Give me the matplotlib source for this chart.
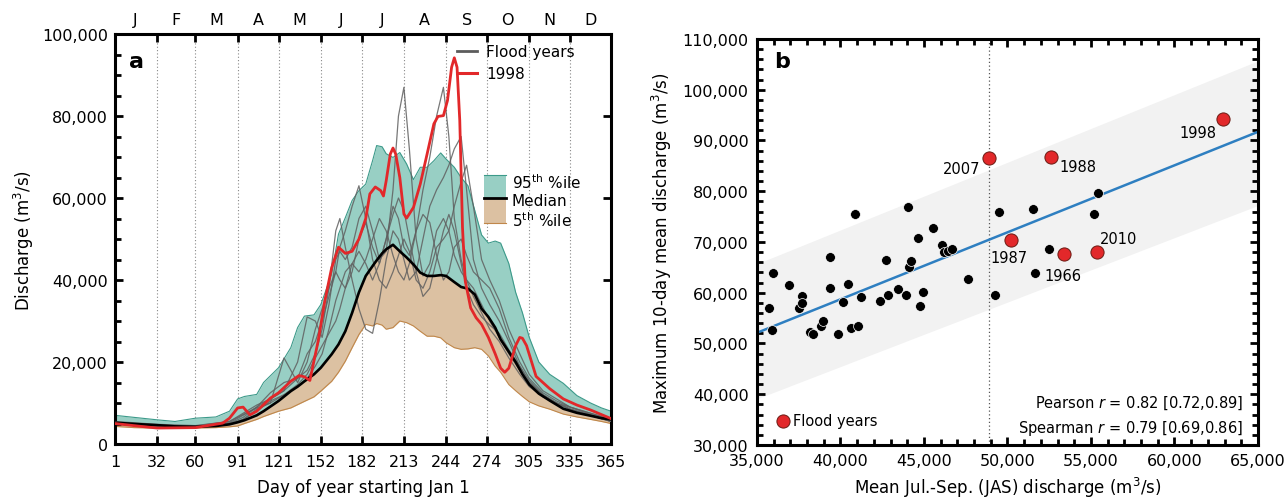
import numpy as np
import matplotlib
matplotlib.use('Agg')
import matplotlib.pyplot as plt
from matplotlib.ticker import FuncFormatter, MultipleLocator
from matplotlib.patches import Rectangle
from matplotlib.lines import Line2D

plt.rcParams['font.family'] = ['DejaVu Sans']
plt.rcParams['font.size'] = 11
plt.rcParams['mathtext.fontset'] = 'dejavusans'

# ---- panel a data (discharge, thousands of m3/s) ----
pct_days = [1, 15, 32, 45, 60, 75, 85, 91, 96, 105, 110, 121, 130, 135, 140, 147, 152,
            160, 165, 170, 175, 180, 185, 190, 193, 197, 200, 205, 210, 215, 220, 225,
            230, 235, 240, 244, 250, 255, 260, 265, 270, 275, 280, 284, 290, 295, 300,
            305, 312, 320, 330, 340, 350, 358, 365]
p95 = [7.0, 6.5, 5.9, 5.5, 6.3, 6.6, 8.0, 11.0, 11.6, 12.1, 15.0, 18.6, 23.5, 28.4, 31.2,
       31.5, 34.0, 41.4, 51.2, 55.2, 59.4, 61.8, 63.4, 69.1, 72.8, 72.5, 70.8, 69.9, 71.1,
       68.3, 64.5, 67.5, 67.5, 69.1, 71.0, 69.5, 67.5, 65.0, 63.0, 57.0, 51.0, 49.0, 49.5,
       49.0, 44.0, 37.0, 32.0, 26.0, 20.0, 17.0, 14.8, 11.8, 10.0, 8.8, 8.0]
p50 = [5.2, 4.9, 4.6, 4.3, 4.2, 4.4, 4.8, 5.3, 5.8, 7.0, 8.0, 10.5, 12.9, 14.0, 15.3,
       17.0, 18.6, 21.9, 24.3, 27.5, 32.0, 37.0, 41.0, 43.4, 44.8, 46.5, 47.5, 48.6, 47.0,
       45.5, 43.8, 41.8, 41.0, 41.0, 41.2, 41.0, 39.5, 38.3, 37.9, 36.5, 33.0, 31.0, 28.4,
       25.5, 22.5, 20.0, 17.0, 14.5, 12.3, 10.6, 8.6, 7.6, 6.9, 6.3, 6.0]
p05 = [4.3, 4.0, 3.9, 3.8, 3.9, 4.0, 4.2, 4.4, 5.0, 6.0, 6.7, 8.0, 8.8, 9.6, 10.4,
       11.5, 12.9, 15.3, 17.5, 20.2, 23.5, 26.7, 29.2, 28.8, 29.4, 29.0, 28.0, 28.4, 30.0,
       29.6, 28.8, 27.5, 26.3, 26.3, 25.9, 24.7, 23.5, 23.1, 23.2, 23.5, 23.1, 21.5, 19.0,
       17.5, 14.5, 13.0, 11.6, 10.3, 9.3, 8.5, 7.3, 6.6, 6.0, 5.5, 5.0]

y1998_days = [1, 20, 32, 60, 80, 85, 91, 95, 100, 105, 110, 115, 121, 130, 136, 140, 144,
              150, 155, 160, 165, 170, 175, 180, 185, 188, 192, 196, 198, 200, 203, 205,
              207, 210, 213, 215, 220, 225, 230, 235, 238, 242, 245, 248, 250, 252, 254,
              256, 258, 262, 266, 270, 275, 280, 284, 287, 290, 295, 298, 300, 303, 310,
              320, 330, 340, 350, 365]
y1998 = [5.0, 4.3, 3.9, 4.0, 5.1, 6.3, 8.8, 9.0, 7.1, 8.0, 9.6, 11.2, 12.5, 15.3, 16.7,
         16.4, 15.5, 25.0, 35.0, 43.0, 48.0, 46.5, 47.0, 50.0, 55.0, 61.0, 62.7, 61.8, 60.5,
         64.2, 70.7, 72.2, 70.7, 65.0, 56.1, 55.1, 57.7, 63.4, 70.7, 78.1, 79.9, 80.1, 83.8,
         91.9, 94.2, 91.9, 78.9, 52.8, 39.8, 33.2, 30.8, 29.2, 26.0, 22.0, 18.5, 17.5, 18.5,
         24.0, 26.0, 25.8, 24.0, 16.5, 13.5, 11.0, 9.5, 8.3, 6.2]

flood_days = [1, 32, 60, 85, 95, 105, 115, 125, 135, 142, 148, 153, 158, 163, 166, 170,
              175, 180, 185, 190, 195, 200, 205, 209, 213, 217, 222, 227, 232, 237, 242,
              246, 250, 255, 259, 264, 270, 276, 283, 290, 298, 305, 315, 325, 335, 350, 365]
flood_years = [
    [5.5, 4.8, 4.5, 5.5, 7.5, 9.5, 11, 13, 20, 31, 30, 26, 34, 45, 47, 45, 48, 55, 58, 52,
     45, 47, 62, 80, 87, 72, 50, 41, 44, 52, 55, 52, 46, 42, 40, 38, 34, 30, 26, 22, 18, 15,
     12, 10, 9, 7.5, 6],
    [5, 4.5, 4.2, 5, 6.5, 9, 12.5, 15, 16, 18, 22, 28, 38, 42, 40, 38, 42, 50, 54, 48, 44,
     50, 58, 55, 48, 46, 52, 62, 70, 80, 87, 75, 55, 45, 40, 36, 32, 28, 25, 21, 17, 14,
     11.5, 10, 8.5, 7, 5.5],
    [4.8, 4.2, 4, 4.8, 6, 8.5, 10, 21, 15, 20, 28, 33, 38, 52, 55, 48, 40, 33, 28, 27, 35,
     45, 52, 50, 45, 40, 42, 50, 58, 62, 65, 68, 72, 75, 62, 45, 38, 34, 30, 25, 19, 15,
     12, 10, 8.5, 7, 5.5],
    [5.2, 4.5, 4.3, 5.2, 7, 9, 11, 13, 16, 22, 25, 30, 36, 42, 48, 52, 58, 63, 55, 45, 40,
     38, 42, 46, 50, 47, 40, 38, 42, 48, 50, 52, 58, 64, 68, 58, 45, 40, 35, 28, 22, 17,
     13, 11, 9, 7.5, 6],
    [5, 4.4, 4.1, 4.8, 6, 8, 10.5, 12, 14, 16, 19, 22, 28, 35, 38, 42, 44, 42, 45, 50, 55,
     52, 46, 42, 40, 44, 52, 56, 54, 46, 40, 42, 48, 50, 46, 42, 40, 38, 33, 26, 20, 16,
     12.5, 10.5, 9, 7.2, 5.8],
    [5.3, 4.6, 4.4, 5.5, 7.2, 8.8, 10, 12, 14.5, 17, 21, 24, 27, 30, 33, 38, 44, 47, 44,
     40, 44, 50, 56, 60, 57, 50, 42, 36, 38, 45, 52, 56, 52, 44, 38, 34, 31, 29, 27, 23,
     19, 15.5, 12, 10, 8.5, 7, 5.5],
]

day_ticks = [1, 32, 60, 91, 121, 152, 182, 213, 244, 274, 305, 335, 365]
month_mid = [16, 46, 75, 106, 136, 167, 197, 228, 259, 289, 320, 350]
month_labels = ['J', 'F', 'M', 'A', 'M', 'J', 'J', 'A', 'S', 'O', 'N', 'D']

# ---- panel b data (thousands of m3/s) ----
jas_mean = [35.73, 35.98, 35.90, 36.91, 37.53, 37.69, 37.71, 38.19, 38.33, 38.83, 38.93,
            39.40, 39.38, 39.88, 40.17, 40.47, 40.64, 40.89, 41.05, 41.20, 42.35, 42.72,
            42.84, 43.44, 43.90, 44.06, 44.12, 44.20, 44.62, 44.74, 44.95, 45.52, 46.10,
            46.20, 46.43, 46.68, 47.65, 49.23, 49.52, 51.52, 51.67, 52.51, 55.19, 55.40]
max10 = [57.06, 63.83, 52.66, 61.53, 57.06, 59.43, 57.92, 52.33, 51.81, 53.52, 54.44,
         67.04, 61.00, 51.87, 58.11, 61.73, 53.05, 75.58, 53.52, 59.23, 58.38, 66.45,
         59.62, 60.74, 59.49, 76.83, 65.14, 66.32, 70.72, 57.39, 60.08, 72.83, 69.41,
         67.97, 68.16, 68.62, 62.71, 59.62, 75.98, 76.44, 63.89, 68.55, 75.45, 79.72]

flood_labels = ['1998', '2007', '1988', '1987', '1966', '2010']
flood_jas = [62.9, 48.88, 52.63, 50.22, 53.36, 55.38]
flood_max10 = [94.2, 86.6, 86.7, 70.33, 67.6, 68.1]

fit_x = [35.0, 65.0]
fit_y = [52.1, 91.7]
band_lo = [39.1, 77.2]
band_hi = [65.7, 105.7]

TEAL = '#98cfc4'
TEAL_EDGE = '#3c9a8a'
TAN = '#dcc1a2'
TAN_EDGE = '#c0874a'
RED = '#e2282a'

k = 1000.0  # values above are in thousands
comma = FuncFormatter(lambda v, p: f'{v:,.0f}')

fig = plt.figure(figsize=(12.88, 5.02), dpi=100)
ax1 = fig.add_axes([0.0893, 0.1135, 0.3851, 0.8167])
ax2 = fig.add_axes([0.5877, 0.1116, 0.3890, 0.8088])

# ---------------- panel a ----------------
d = np.array(pct_days)
ax1.fill_between(d, np.array(p50) * k, np.array(p95) * k, color=TEAL, lw=0, zorder=1)
ax1.fill_between(d, np.array(p05) * k, np.array(p50) * k, color=TAN, lw=0, zorder=1)
ax1.plot(d, np.array(p95) * k, color=TEAL_EDGE, lw=0.8, zorder=2)
ax1.plot(d, np.array(p05) * k, color=TAN_EDGE, lw=0.8, zorder=2)
for v in day_ticks[1:-1]:
    ax1.axvline(v, color='#888888', lw=0.8, ls=(0, (1, 2)), zorder=0.5)
for fy in flood_years:
    ax1.plot(flood_days, np.array(fy) * k, color='#606060', lw=0.9, alpha=0.85, zorder=3)
ax1.plot(d, np.array(p50) * k, color='black', lw=1.9, zorder=4)
ax1.plot(y1998_days, np.array(y1998) * k, color=RED, lw=2.0, zorder=5)

ax1.set_xlim(1, 365)
ax1.set_ylim(0, 100000)
ax1.set_xticks(day_ticks)
ax1.yaxis.set_major_locator(MultipleLocator(20000))
ax1.yaxis.set_minor_locator(MultipleLocator(5000))
ax1.yaxis.set_major_formatter(comma)
ax1.tick_params(which='both', direction='in', top=True, right=True, width=2,
                labelsize=11.5)
ax1.tick_params(which='major', length=6)
ax1.tick_params(which='minor', length=4, right=False)
ax1.tick_params(axis='x', pad=7)
ax1.tick_params(axis='y', pad=5)
top = ax1.secondary_xaxis('top')
top.set_xticks(month_mid)
top.set_xticklabels(month_labels)
top.tick_params(length=0, pad=5, labelsize=11.5)
top.spines['top'].set_visible(False)
ax1.set_xlabel('Day of year starting Jan 1', fontsize=12)
ax1.set_ylabel('Discharge (m$^3$/s)', fontsize=12)
ax1.text(0.028, 0.935, 'a', transform=ax1.transAxes, fontsize=16, fontweight='bold',
         va='center', ha='left')

h1 = [Line2D([], [], color='#5c5c5c', lw=2.0), Line2D([], [], color=RED, lw=2.2)]
ax1.legend(h1, ['Flood years', '1998'], loc='upper left', bbox_to_anchor=(0.69, 0.975),
           frameon=False, borderpad=0, borderaxespad=0, handlelength=1.3,
           handletextpad=0.6, labelspacing=0.45)

tr = ax1.transAxes
ax1.add_patch(Rectangle((0.744, 0.600), 0.044, 0.056, transform=tr, facecolor=TEAL,
                        edgecolor='none', zorder=6))
ax1.add_patch(Rectangle((0.744, 0.539), 0.044, 0.061, transform=tr, facecolor=TAN,
                        edgecolor='none', zorder=6))
ax1.plot([0.744, 0.788], [0.656, 0.656], transform=tr, color=TEAL_EDGE, lw=0.8, zorder=7)
ax1.plot([0.744, 0.788], [0.539, 0.539], transform=tr, color=TAN_EDGE, lw=0.8, zorder=7)
ax1.plot([0.744, 0.788], [0.600, 0.600], transform=tr, color='black', lw=2, zorder=7)
ax1.text(0.800, 0.640, '95$^{\\rm th}$ %ile', transform=tr, va='center', ha='left')
ax1.text(0.800, 0.595, 'Median', transform=tr, va='center', ha='left')
ax1.text(0.800, 0.548, '5$^{\\rm th}$ %ile', transform=tr, va='center', ha='left')

# ---------------- panel b ----------------
fx = np.array(fit_x) * k
ax2.fill_between(fx, np.array(band_lo) * k, np.array(band_hi) * k, color='#f2f2f2',
                 lw=0, zorder=0)
ax2.plot(fx, np.array(fit_y) * k, color='#2e7fc1', lw=1.8, zorder=2)
ax2.axvline(flood_jas[1] * k, color='#555555', lw=0.9, ls=(0, (1, 2)), zorder=1)
ax2.scatter(np.array(jas_mean) * k, np.array(max10) * k, s=50, color='black',
            edgecolor='white', linewidth=0.5, zorder=3)
sc = ax2.scatter(np.array(flood_jas) * k, np.array(flood_max10) * k, s=90, color=RED,
                 edgecolor='#6a1a12', linewidth=0.7, zorder=4, label='Flood years')

offsets = {'1998': (-25, -13), '2007': (-27, -11), '1988': (27, -9),
           '1987': (-2, -17), '1966': (-1, -21), '2010': (21, 13)}
for lab, xv, yv in zip(flood_labels, flood_jas, flood_max10):
    ax2.annotate(lab, (xv * k, yv * k), xytext=offsets[lab], textcoords='offset pixels',
                 ha='center', va='center', fontsize=10.5, zorder=5)

ax2.set_xlim(35000, 65000)
ax2.set_ylim(30000, 110000)
ax2.xaxis.set_major_locator(MultipleLocator(5000))
ax2.xaxis.set_minor_locator(MultipleLocator(1000))
ax2.yaxis.set_major_locator(MultipleLocator(10000))
ax2.yaxis.set_minor_locator(MultipleLocator(2000))
ax2.xaxis.set_major_formatter(comma)
ax2.yaxis.set_major_formatter(comma)
ax2.tick_params(which='both', direction='in', top=True, right=True, width=2,
                labelsize=11.5)
ax2.tick_params(which='major', length=6)
ax2.tick_params(which='minor', length=4)
ax2.tick_params(axis='x', pad=6)
ax2.tick_params(axis='y', pad=6)
ax2.set_xlabel('Mean Jul.-Sep. (JAS) discharge (m$^3$/s)', fontsize=12)
ax2.set_ylabel('Maximum 10-day mean discharge (m$^3$/s)', fontsize=12)
ax2.text(0.035, 0.946, 'b', transform=ax2.transAxes, fontsize=16, fontweight='bold',
         va='center', ha='left')
ax2.legend(handles=[sc], loc='lower left', bbox_to_anchor=(0.035, 0.042), frameon=False,
           borderpad=0, borderaxespad=0, handletextpad=0.1, handlelength=1.2,
           fontsize=10.5)
ax2.text(0.970, 0.106, 'Pearson $r$ = 0.82 [0.72,0.89]', transform=ax2.transAxes,
         ha='right', va='center', fontsize=10.5)
ax2.text(0.970, 0.044, 'Spearman $r$ = 0.79 [0.69,0.86]', transform=ax2.transAxes,
         ha='right', va='center', fontsize=10.5)

for s in list(ax1.spines.values()) + list(ax2.spines.values()):
    s.set_linewidth(2.2)
ax1.yaxis.set_label_coords(-0.16, 0.5)
ax2.yaxis.set_label_coords(-0.165, 0.5)
ax1.xaxis.set_label_coords(0.5, -0.083)
ax2.xaxis.set_label_coords(0.5, -0.073)

fig.savefig('out.png', dpi=100)
